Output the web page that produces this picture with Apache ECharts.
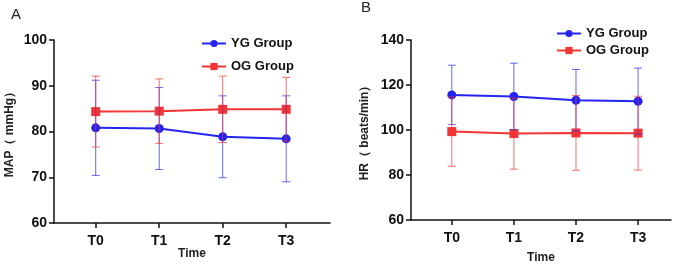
<!DOCTYPE html>
<html lang="en">
<head>
    <meta charset="UTF-8">
    <title>MAP / HR</title>
    <script src="https://cdn.jsdelivr.net/npm/echarts@6/dist/echarts.min.js"></script>
    <style>
        html, body { margin: 0; padding: 0; background: #fff; }
        #main { width: 682px; height: 268px; }
    </style>
</head>
<body>
<div id="main"></div>
<script type="text/javascript">
    // 数据
    var times = ['T0', 'T1', 'T2', 'T3'];

    var mapYgMean = [80.8, 80.65, 78.85, 78.4];
    var mapYgSd = [10.4, 8.95, 8.95, 9.4];
    var mapOgMean = [84.35, 84.45, 84.85, 84.85];
    var mapOgSd = [7.75, 7.05, 7.25, 7.0];

    var hrYgMean = [115.6, 114.9, 113.2, 112.8];
    var hrYgSd = [13.2, 14.8, 13.7, 14.7];
    var hrOgMean = [99.3, 98.4, 98.7, 98.6];
    var hrOgSd = [15.4, 15.8, 16.6, 16.4];

    var mapTicks = [60, 70, 80, 90, 100];
    var hrTicks = [60, 80, 100, 120, 140];

    var BLUE = '#2424f2';
    var RED = '#f23535';
    var FONT = 'Liberation Sans';

    function points(mean) {
        var out = [];
        for (var i = 0; i < mean.length; i++) out.push([i, mean[i]]);
        return out;
    }
    function bars(mean, sd) {
        var out = [];
        for (var i = 0; i < mean.length; i++) out.push([i, mean[i] - sd[i], mean[i] + sd[i]]);
        return out;
    }

    // 误差线
    function renderErr(color) {
        return function (params, api) {
            var x = api.value(0);
            var p1 = api.coord([x, api.value(1)]);
            var p2 = api.coord([x, api.value(2)]);
            var w = 4;
            var st = { stroke: color, lineWidth: 1 };
            return {
                type: 'group',
                children: [
                    { type: 'line', shape: { x1: p1[0], y1: p1[1], x2: p2[0], y2: p2[1] }, style: st },
                    { type: 'line', shape: { x1: p1[0] - w, y1: p1[1], x2: p1[0] + w, y2: p1[1] }, style: st },
                    { type: 'line', shape: { x1: p2[0] - w, y1: p2[1], x2: p2[0] + w, y2: p2[1] }, style: st }
                ]
            };
        };
    }

    function xAxis(idx, max, gap) {
        return {
            type: 'value', gridIndex: idx, min: -0.657, max: max,
            name: 'Time', nameLocation: 'middle', nameGap: gap, nameMoveOverlap: false,
            nameTextStyle: { fontFamily: FONT, fontWeight: 'bold', fontSize: 12, color: '#222' },
            axisLine: { onZero: false, lineStyle: { color: '#111', width: 1.5 } },
            axisTick: { customValues: [0, 1, 2, 3], length: 5, lineStyle: { color: '#111', width: 1.5 } },
            axisLabel: {
                customValues: [0, 1, 2, 3], margin: 11,
                formatter: function (v) { return times[Math.round(v)]; },
                fontFamily: FONT, fontWeight: 'bold', fontSize: 14, color: '#111'
            },
            splitLine: { show: false }
        };
    }

    function yAxis(idx, ticks, name, gap) {
        return {
            type: 'value', gridIndex: idx, min: ticks[0], max: ticks[ticks.length - 1],
            interval: ticks[1] - ticks[0],
            name: name, nameLocation: 'middle', nameGap: gap, nameMoveOverlap: false,
            nameTextStyle: { fontFamily: FONT, fontWeight: 'bold', fontSize: 12, color: '#222' },
            axisLine: { show: true, onZero: false, lineStyle: { color: '#111', width: 1.5 } },
            axisTick: { show: true, length: 5, lineStyle: { color: '#111', width: 1.5 } },
            axisLabel: { margin: 7, fontFamily: FONT, fontWeight: 'bold', fontSize: 14, color: '#111' },
            splitLine: { show: false }
        };
    }

    function lineSeries(name, idx, mean, color, symbol, size) {
        return {
            name: name, type: 'line', xAxisIndex: idx, yAxisIndex: idx,
            data: points(mean), symbol: symbol, symbolSize: size,
            lineStyle: { color: color, width: 2 }, itemStyle: { color: color },
            z: 3
        };
    }
    function errSeries(idx, mean, sd, color) {
        return {
            type: 'custom', xAxisIndex: idx, yAxisIndex: idx,
            data: bars(mean, sd), renderItem: renderErr(color),
            encode: { x: 0, y: [1, 2] }, silent: true, z: 4
        };
    }

    var legendText = { fontFamily: FONT, fontWeight: 'bold', fontSize: 13, color: '#111' };

    var option = {
        animation: false,
        graphic: [
            { type: 'text', left: 11, top: 7, style: { text: 'A', font: '15px "Liberation Sans"', fill: '#222' } },
            { type: 'text', left: 361, top: 0, style: { text: 'B', font: '15px "Liberation Sans"', fill: '#222' } }
        ],
        legend: [
            {
                orient: 'vertical', left: 196, top: 32, itemGap: 10, itemWidth: 24, itemHeight: 9,
                textStyle: legendText, data: ['YG Group', 'OG Group']
            },
            {
                orient: 'vertical', left: 551, top: 22, itemGap: 4, itemWidth: 24, itemHeight: 9,
                textStyle: legendText, data: ['YG Group', 'OG Group']
            }
        ],
        grid: [
            { left: 54, top: 40, width: 276, height: 183, outerBoundsMode: 'none' },
            { left: 411, top: 40, width: 260, height: 180, outerBoundsMode: 'none' }
        ],
        xAxis: [xAxis(0, 3.69, 25), xAxis(1, 3.53, 32)],
        yAxis: [yAxis(0, mapTicks, 'MAP（ mmHg）', 38), yAxis(1, hrTicks, 'HR（ beats/min）', 40)],
        series: [
            lineSeries('YG Group', 0, mapYgMean, BLUE, 'circle', 9),
            lineSeries('OG Group', 0, mapOgMean, RED, 'rect', 9),
            errSeries(0, mapYgMean, mapYgSd, 'rgba(40,40,235,0.7)'),
            errSeries(0, mapOgMean, mapOgSd, 'rgba(240,50,50,0.7)'),
            lineSeries('YG Group', 1, hrYgMean, BLUE, 'circle', 9),
            lineSeries('OG Group', 1, hrOgMean, RED, 'rect', 9),
            errSeries(1, hrYgMean, hrYgSd, 'rgba(40,40,235,0.7)'),
            errSeries(1, hrOgMean, hrOgSd, 'rgba(240,50,50,0.7)')
        ]
    };

    var chart = echarts.init(document.getElementById('main'));
    chart.setOption(option);
</script>
</body>
</html>
